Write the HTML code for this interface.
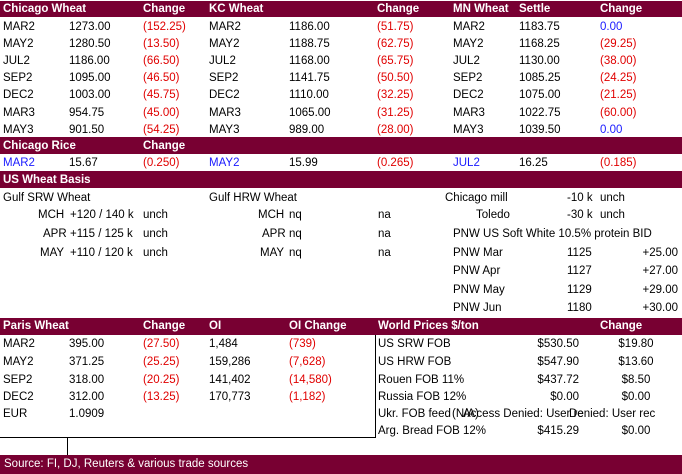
<!DOCTYPE html>
<html><head><meta charset="utf-8"><style>
html,body{margin:0;padding:0;}
body{width:682px;height:474px;position:relative;overflow:hidden;background:#fff;font-family:"Liberation Sans",sans-serif;font-size:11.5px;color:#000;}
.bar{position:absolute;background:#780032;left:0;width:682px;}
.t{position:absolute;line-height:16px;white-space:nowrap;}
.h{color:#fff;font-weight:bold;}
.f{color:#fff;}
.r{color:#e00000;}
.b{color:#1a1aff;}
.ln{position:absolute;background:#000;}
</style></head><body>
<div class="bar" style="top:1px;height:16px"></div>
<div class="bar" style="top:137px;height:17px"></div>
<div class="bar" style="top:171px;height:17px"></div>
<div class="bar" style="top:318px;height:17px"></div>
<div class="bar" style="top:455px;height:19px"></div>
<div class="ln" style="left:375px;top:335px;width:1px;height:103px"></div>
<div class="ln" style="left:0;top:437px;width:376px;height:1px"></div>
<div class="ln" style="left:67px;top:437px;width:1px;height:18px"></div>
<div id="cells"></div>
<script>
const cells = [
[3,9,"Chicago Wheat","h","chicago-wheat-title"],[143,9,"Change","h","change-header"],[209,9,"KC Wheat","h","kc-wheat-title"],[377,9,"Change","h","change-header"],[453,9,"MN Wheat","h","mn-wheat-title"],[519,9,"Settle","h","settle-header"],[600,9,"Change","h","change-header"],
[3,146,"Chicago Rice","h","chicago-rice-title"],[143,146,"Change","h","change-header"],
[3,180,"US Wheat Basis","h","us-wheat-basis-title"],
[3,326,"Paris Wheat","h","paris-wheat-title"],[143,326,"Change","h","change-header"],[209,326,"OI","h","oi-header"],[289,326,"OI Change","h","oi-change-header"],[378,326,"World Prices $/ton","h","world-prices-title"],[600,326,"Change","h","change-header"],
[4,464,"Source: FI, DJ, Reuters & various trade sources","f","source-note"]
];
const months=["MAR2","MAY2","JUL2","SEP2","DEC2","MAR3","MAY3"];
const chi=["1273.00","1280.50","1186.00","1095.00","1003.00","954.75","901.50"];
const chiChg=["(152.25)","(13.50)","(66.50)","(46.50)","(45.75)","(45.00)","(54.25)"];
const kc=["1186.00","1188.75","1168.00","1141.75","1110.00","1065.00","989.00"];
const kcChg=["(51.75)","(62.75)","(65.75)","(50.50)","(32.25)","(31.25)","(28.00)"];
const mn=["1183.75","1168.25","1130.00","1085.25","1075.00","1022.75","1039.50"];
const mnChg=["0.00","(29.25)","(38.00)","(24.25)","(21.25)","(60.00)","0.00"];
const ry=[27,44,61,78,95,113,130];
months.forEach((m,i)=>{
 const y=ry[i];
 cells.push([3,y,m,"","chicago-month"],[69,y,chi[i],"","chicago-price"],[143,y,chiChg[i],"r","chicago-change"],
 [209,y,m,"","kc-month"],[289,y,kc[i],"","kc-price"],[377,y,kcChg[i],"r","kc-change"],
 [453,y,m,"","mn-month"],[519,y,mn[i],"","mn-settle"],[600,y,mnChg[i],mnChg[i].startsWith("(")?"r":"b","mn-change"]);
});
cells.push([3,163,"MAR2","b","rice-month"],[69,163,"15.67","","rice-price"],[143,163,"(0.250)","r","rice-change"],
[209,163,"MAY2","b","rice-month"],[289,163,"15.99","","rice-price"],[377,163,"(0.265)","r","rice-change"],
[453,163,"JUL2","b","rice-month"],[519,163,"16.25","","rice-price"],[600,163,"(0.185)","r","rice-change"]);
cells.push([3,198,"Gulf SRW Wheat","","gulf-srw-label"],[209,198,"Gulf HRW Wheat","","gulf-hrw-label"],[445,198,"Chicago mill","","chicago-mill-label"],[567,198,"-10 k","","chicago-mill-basis"],[600,198,"unch","","chicago-mill-change"],
[38,215,"MCH","","srw-month"],[70,215,"+120 / 140 k","","srw-basis"],[143,215,"unch","","srw-change"],[258,215,"MCH","","hrw-month"],[289,215,"nq","","hrw-basis"],[378,215,"na","","hrw-change"],[476,215,"Toledo","","toledo-label"],[567,215,"-30 k","","toledo-basis"],[600,215,"unch","","toledo-change"],
[43,234,"APR","","srw-month"],[70,234,"+115 / 125 k","","srw-basis"],[143,234,"unch","","srw-change"],[262,234,"APR","","hrw-month"],[289,234,"nq","","hrw-basis"],[378,234,"na","","hrw-change"],[453,234,"PNW US Soft White 10.5% protein BID","","pnw-title"],
[40,253,"MAY","","srw-month"],[70,253,"+110 / 120 k","","srw-basis"],[143,253,"unch","","srw-change"],[260,253,"MAY","","hrw-month"],[289,253,"nq","","hrw-basis"],[378,253,"na","","hrw-change"]);
const pnwL=["PNW Mar","PNW Apr","PNW May","PNW Jun"],pnwP=["1125","1127","1129","1180"],pnwC=["+25.00","+27.00","+29.00","+30.00"],py=[253,271,290,308];
pnwL.forEach((l,i)=>cells.push([453,py[i],l,"","pnw-month"],[567,py[i],pnwP[i],"","pnw-price"],[-678,py[i],pnwC[i],"","pnw-change"]));
const parL=["MAR2","MAY2","SEP2","DEC2"],parP=["395.00","371.25","318.00","312.00"],parC=["(27.50)","(25.25)","(20.25)","(13.25)"],parOI=["1,484","159,286","141,402","170,773"],parOC=["(739)","(7,628)","(14,580)","(1,182)"],pary=[344,362,380,397];
parL.forEach((l,i)=>cells.push([3,pary[i],l,"","paris-month"],[69,pary[i],parP[i],"","paris-price"],[143,pary[i],parC[i],"r","paris-change"],[209,pary[i],parOI[i],"","paris-oi"],[289,pary[i],parOC[i],"r","paris-oi-change"]));
cells.push([3,414,"EUR","","eur-label"],[69,414,"1.0909","","eur-rate"]);
const wL=["US SRW FOB","US HRW FOB","Rouen FOB 11%","Russia FOB 12%","Arg. Bread FOB 12%"],wP=["$530.50","$547.90","$437.72","$0.00","$415.29"],wC=["$19.80","$13.60","$8.50","$0.00","$0.00"],wy=[344,362,380,397,431];
wL.forEach((l,i)=>cells.push([378,wy[i],l,"","world-origin"],[-579,wy[i],wP[i],"","world-price"],[636,wy[i],wC[i],"c","world-change"]));
cells.push([378,414,"Ukr. FOB feed","","ukr-label"],[452,414,"(N/A)","","ukr-na"],[463,414,"Access Denied: User re","","ukr-price-error"],[569,414,"Denied: User rec","","ukr-change-error"]);
const root=document.getElementById('cells');
cells.forEach(c=>{
 const el=document.createElement('div');
 el.className='t '+(c[3]==='c'?'':c[3]);
 el.style.top=(c[1]-8)+'px';
 if(c[3]==='c'){el.style.left=(c[0]-30)+'px';el.style.width='60px';el.style.textAlign='center';}
 else if(c[0]<0){el.style.right=(682+c[0])+'px';}
 else el.style.left=c[0]+'px';
 el.textContent=c[2];
 
 
 root.appendChild(el);
});
</script>
</body></html>
